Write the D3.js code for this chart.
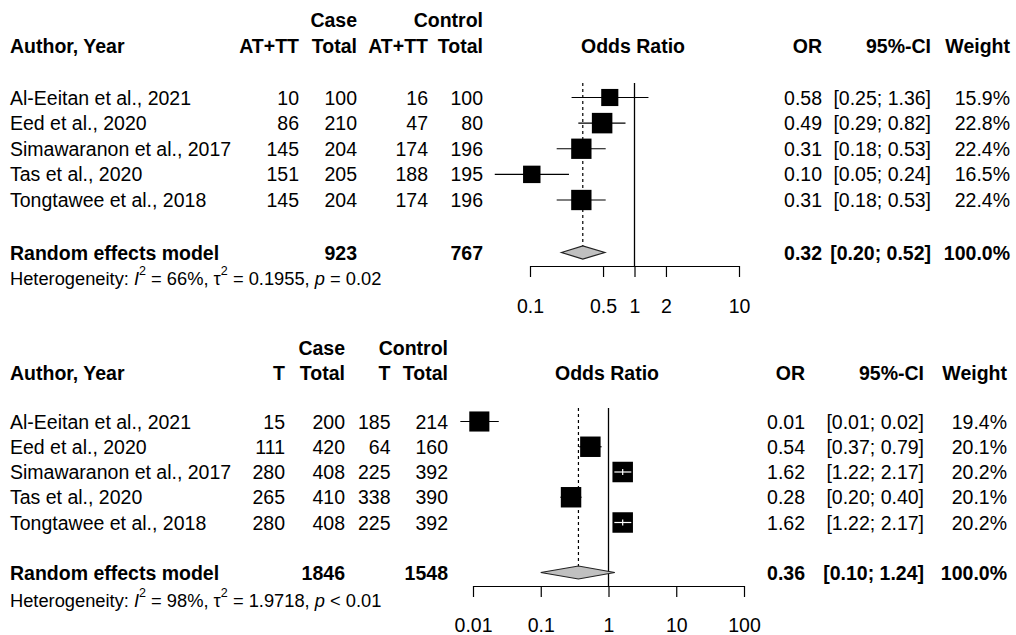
<!DOCTYPE html>
<html><head><meta charset="utf-8">
<script src="https://cdn.jsdelivr.net/npm/d3@7"></script>
<style>
body{margin:0;background:#fff}
text{font-family:"Liberation Sans",Arial,sans-serif;fill:#000}
</style>
</head><body>
<svg id="c" width="1016" height="635"></svg>
<script>
// ---------- DATA ----------
const studies = ["Al-Eeitan et al., 2021","Eed et al., 2020","Simawaranon et al., 2017","Tas et al., 2020","Tongtawee et al., 2018"];

// Panel A : AT+TT
const eventLabelA = "AT+TT";
const caseEventsA = [10, 86, 145, 151, 145];
const caseTotalA  = [100, 210, 204, 205, 204];
const ctrlEventsA = [16, 47, 174, 188, 174];
const ctrlTotalA  = [100, 80, 196, 195, 196];
const orA = [0.58, 0.49, 0.31, 0.104, 0.31];
const loA = [0.25, 0.29, 0.18, 0.046, 0.18];
const hiA = [1.36, 0.82, 0.53, 0.236, 0.53];
const weightA = [15.9, 22.8, 22.4, 16.5, 22.4];
const pooledA = [0.32, 0.20, 0.52];      // OR, lower, upper
const pooledNA = [923, 767];             // case total, control total
const hetA = ["66%", "0.1955", "= 0.02"];
const ticksA = [0.1, 0.5, 1, 2, 10];

// Panel B : T
const eventLabelB = "T";
const caseEventsB = [15, 111, 280, 265, 280];
const caseTotalB  = [200, 420, 408, 410, 408];
const ctrlEventsB = [185, 64, 225, 338, 225];
const ctrlTotalB  = [214, 160, 392, 390, 392];
const orB = [0.0124, 0.54, 1.62, 0.28, 1.62];
const loB = [0.0065, 0.37, 1.22, 0.195, 1.22];
const hiB = [0.024, 0.79, 2.17, 0.40, 2.17];
const weightB = [19.4, 20.1, 20.2, 20.1, 20.2];
const pooledB = [0.36, 0.10, 1.24];
const pooledNB = [1846, 1548];
const hetB = ["98%", "1.9718", "< 0.01"];
const ticksB = [0.01, 0.1, 1, 10, 100];

// ---------- LAYOUT ----------
const svg = d3.select("#c");
const f2 = v => (Math.round(v * 100) / 100).toFixed(2);
const f1 = d3.format(".1f");
const FS = 19.5;

function panel(cfg) {
  const g = svg.append("g");
  const x = d3.scaleLog().domain(cfg.domain).range(cfg.xr);
  const y = d3.scalePoint().domain(studies).range(cfg.yr);
  const maxW = d3.max(cfg.weight);

  function txt(xp, yp, s, anchor, bold, size) {
    return g.append("text").attr("x", xp).attr("y", yp).attr("dy", "0.36em")
      .attr("text-anchor", anchor || "start")
      .attr("font-weight", bold ? "bold" : "normal")
      .attr("font-size", size || FS).text(s);
  }
  // headers
  txt(cfg.col.caseTot, cfg.hy1, "Case", "end", true);
  txt(cfg.col.ctrlTot, cfg.hy1, "Control", "end", true);
  txt(10, cfg.hy2, "Author, Year", "start", true);
  txt(cfg.col.caseEv, cfg.hy2, cfg.evLabel, "end", true);
  txt(cfg.col.caseTot, cfg.hy2, "Total", "end", true);
  txt(cfg.col.ctrlEv, cfg.hy2, cfg.evLabel, "end", true);
  txt(cfg.col.ctrlTot, cfg.hy2, "Total", "end", true);
  txt(cfg.col.title, cfg.hy2, "Odds Ratio", "middle", true);
  txt(cfg.col.or, cfg.hy2, "OR", "end", true);
  txt(cfg.col.ci, cfg.hy2, "95%-CI", "end", true);
  txt(cfg.col.w, cfg.hy2, "Weight", "end", true);

  // study rows
  studies.forEach((s, i) => {
    const yy = y(s);
    txt(10, yy, s);
    txt(cfg.col.caseEv, yy, cfg.ce[i], "end");
    txt(cfg.col.caseTot, yy, cfg.ct[i], "end");
    txt(cfg.col.ctrlEv, yy, cfg.ke[i], "end");
    txt(cfg.col.ctrlTot, yy, cfg.kt[i], "end");
    txt(cfg.col.or, yy, f2(cfg.or[i]), "end");
    txt(cfg.col.ci, yy, "[" + f2(cfg.lo[i]) + "; " + f2(cfg.hi[i]) + "]", "end");
    txt(cfg.col.w, yy, f1(cfg.weight[i]) + "%", "end");
  });
  // summary row
  txt(10, cfg.sy, "Random effects model", "start", true);
  txt(cfg.col.caseTot, cfg.sy, cfg.pN[0], "end", true);
  txt(cfg.col.ctrlTot, cfg.sy, cfg.pN[1], "end", true);
  txt(cfg.col.or, cfg.sy, f2(cfg.pooled[0]), "end", true);
  txt(cfg.col.ci, cfg.sy, "[" + f2(cfg.pooled[1]) + "; " + f2(cfg.pooled[2]) + "]", "end", true);
  txt(cfg.col.w, cfg.sy, "100.0%", "end", true);

  // heterogeneity
  const h = g.append("text").attr("x", 10).attr("y", cfg.hety).attr("dy", "0.36em").attr("font-size", 18.3);
  h.append("tspan").text("Heterogeneity: ");
  h.append("tspan").attr("font-style", "italic").text("I");
  h.append("tspan").attr("font-size", 12.5).attr("dy", "-0.75em").text("2");
  h.append("tspan").attr("dy", "0.52em").text(" = " + cfg.het[0] + ", \u03c4");
  h.append("tspan").attr("font-size", 12.5).attr("dy", "-0.75em").text("2");
  h.append("tspan").attr("dy", "0.52em").text(" = " + cfg.het[1] + ", ");
  h.append("tspan").attr("font-style", "italic").text("p");
  h.append("tspan").text(" " + cfg.het[2]);

  // reference lines
  g.append("line").attr("x1", x(1)).attr("x2", x(1)).attr("y1", cfg.vtop).attr("y2", cfg.axisY)
    .attr("stroke", "#000").attr("stroke-width", 1.3);
  const dh = 6.5;
  g.append("line").attr("x1", x(cfg.pooled[0])).attr("x2", x(cfg.pooled[0]))
    .attr("y1", cfg.vtop).attr("y2", cfg.sy - dh)
    .attr("stroke", "#000").attr("stroke-width", 1.2).attr("stroke-dasharray", "3,3");

  // CIs and squares
  studies.forEach((s, i) => {
    const yy = y(s);
    const side = 20.5 * Math.sqrt(cfg.weight[i] / maxW);
    const cx = x(cfg.or[i]);
    const inside = x(cfg.lo[i]) >= cx - side / 2 && x(cfg.hi[i]) <= cx + side / 2;
    if (!inside) {
      g.append("line").attr("x1", x(cfg.lo[i])).attr("x2", x(cfg.hi[i]))
        .attr("y1", yy).attr("y2", yy).attr("stroke", "#000").attr("stroke-width", 1.2);
    }
    g.append("rect").attr("x", cx - side / 2).attr("y", yy - side / 2)
      .attr("width", side).attr("height", side).attr("fill", "#000");
    if (inside) {
      g.append("line").attr("x1", x(cfg.lo[i])).attr("x2", x(cfg.hi[i]))
        .attr("y1", yy).attr("y2", yy).attr("stroke", "#fff").attr("stroke-width", 1.2);
      g.append("line").attr("x1", cx).attr("x2", cx)
        .attr("y1", yy - 3).attr("y2", yy + 3).attr("stroke", "#fff").attr("stroke-width", 1.2);
    }
  });

  // diamond
  const p = cfg.pooled;
  g.append("path")
    .attr("d", `M${x(p[1])},${cfg.sy} L${x(p[0])},${cfg.sy - dh} L${x(p[2])},${cfg.sy} L${x(p[0])},${cfg.sy + dh} Z`)
    .attr("fill", "#c0c0c0").attr("stroke", "#222").attr("stroke-width", 1.2);

  // axis
  const ax = g.append("g").attr("transform", `translate(0,${cfg.axisY})`)
    .call(d3.axisBottom(x).tickValues(cfg.ticks).tickSize(11).tickSizeOuter(0)
      .tickFormat(d => String(d)));
  ax.select(".domain").attr("stroke", "#000").attr("stroke-width", 1.2);
  ax.selectAll(".tick line").attr("stroke", "#000").attr("stroke-width", 1.2);
  ax.selectAll(".tick text").attr("y", cfg.labOff).attr("dy", "0.36em")
    .attr("font-size", FS).attr("font-family", "Liberation Sans, Arial, sans-serif").attr("fill", "#000");
}

panel({
  domain: [0.1, 10], xr: [530, 739], yr: [97.5, 200], ticks: ticksA,
  evLabel: eventLabelA, ce: caseEventsA, ct: caseTotalA, ke: ctrlEventsA, kt: ctrlTotalA,
  or: orA, lo: loA, hi: hiA, weight: weightA, pooled: pooledA, pN: pooledNA, het: hetA,
  hy1: 20, hy2: 46, sy: 252.5, hety: 278, vtop: 83, axisY: 266, labOff: 40,
  col: {caseEv: 299, caseTot: 357, ctrlEv: 428, ctrlTot: 483, title: 633, or: 822, ci: 931, w: 1010}
});

panel({
  domain: [0.01, 100], xr: [473, 744], yr: [421.5, 522.5], ticks: ticksB,
  evLabel: eventLabelB, ce: caseEventsB, ct: caseTotalB, ke: ctrlEventsB, kt: ctrlTotalB,
  or: orB, lo: loB, hi: hiB, weight: weightB, pooled: pooledB, pN: pooledNB, het: hetB,
  hy1: 348, hy2: 373, sy: 572.5, hety: 600, vtop: 408, axisY: 586, labOff: 39,
  col: {caseEv: 285, caseTot: 345, ctrlEv: 390.5, ctrlTot: 448, title: 607, or: 805, ci: 924, w: 1007}
});
</script>
</body></html>
